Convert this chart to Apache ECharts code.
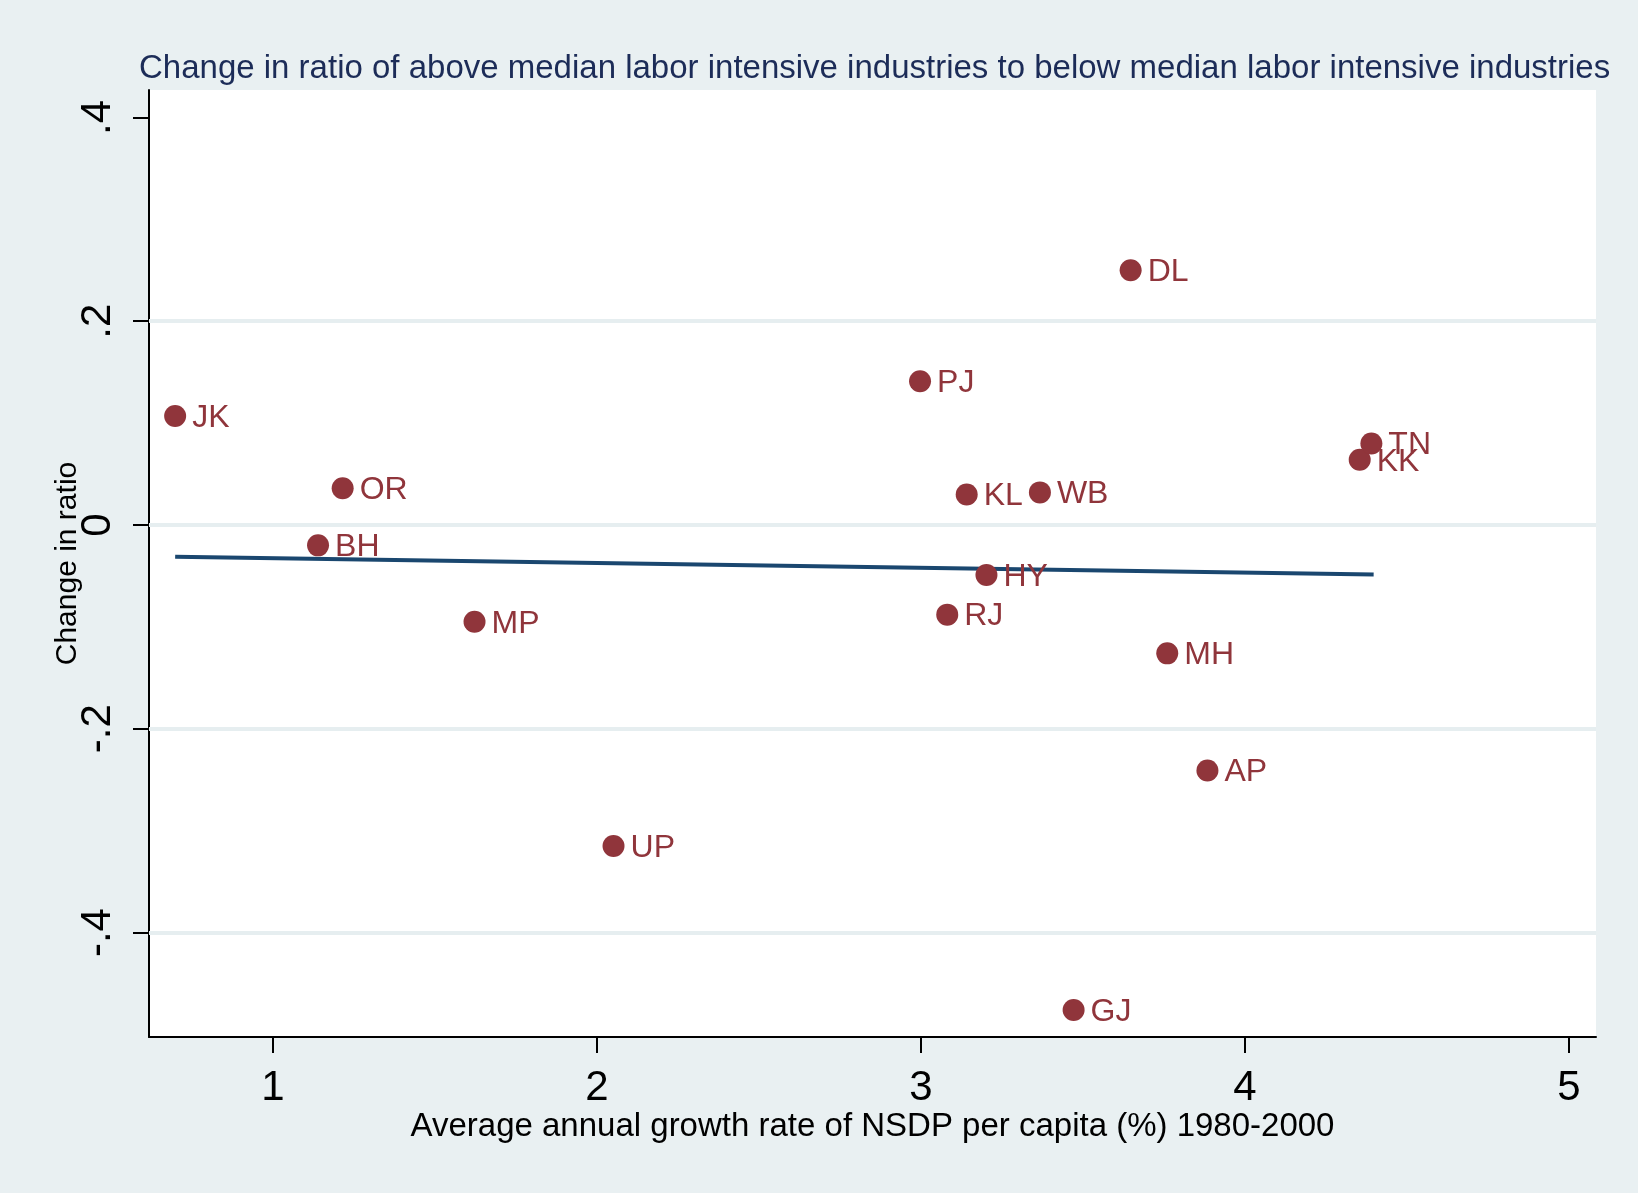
<!DOCTYPE html>
<html>
<head>
<meta charset="utf-8">
<script src="https://cdn.jsdelivr.net/npm/echarts@6/dist/echarts.min.js"></script>
<style>
html,body{margin:0;padding:0;background:#e9f0f2;}
#chart{width:1638px;height:1193px;}
</style>
</head>
<body>
<div id="chart"></div>
<script>
// State codes, growth rate (x) and change in ratio (y)
const states = ['JK','OR','BH','MP','UP','PJ','KL','WB','HY','RJ','DL','MH','AP','GJ','KK','TN'];
const growth = [0.698, 1.215, 1.139, 1.622, 2.051, 2.997, 3.141, 3.367, 3.202, 3.081, 3.647, 3.760, 3.884, 3.471, 4.354, 4.390];
const changeRatio = [0.107, 0.036, -0.020, -0.095, -0.315, 0.141, 0.030, 0.032, -0.049, -0.088, 0.250, -0.126, -0.241, -0.476, 0.064, 0.080];

// Fitted line endpoints
const fitX = [0.698, 4.397];
const fitY = [-0.0311, -0.0487];

// Axis ticks
const xTickValues = [1, 2, 3, 4, 5];
const xTickLabels = ['1', '2', '3', '4', '5'];
const yTickValues = [-0.4, -0.2, 0, 0.2, 0.4];
const yTickLabels = ['-.4', '-.2', '0', '.2', '.4'];
const yGridValues = [-0.4, -0.2, 0, 0.2];

const titleText = 'Change in ratio of above median labor intensive industries to below median labor intensive industries';
const xTitle = 'Average annual growth rate of NSDP per capita (%) 1980-2000';
const yTitle = 'Change in ratio';

const FONT = 'Liberation Sans, Arial, Helvetica, sans-serif';
const MAROON = '#90353b';

function labelFor(values, labels, v) {
  let best = 0, d = Infinity;
  values.forEach((t, i) => { const dd = Math.abs(t - v); if (dd < d) { d = dd; best = i; } });
  return labels[best];
}

const scatterData = states.map((s, i) => [growth[i], changeRatio[i], s]);
const fitData = fitX.map((x, i) => [x, fitY[i]]);

const chart = echarts.init(document.getElementById('chart'), null, {renderer: 'canvas'});
chart.setOption({
  backgroundColor: '#e9f0f2',
  animation: false,
  title: {
    text: titleText,
    left: 139,
    top: 52,
    padding: 0,
    textStyle: {fontFamily: FONT, fontSize: 33, fontWeight: 'normal', color: '#1c2c58'}
  },
  grid: {
    left: 149, top: 90, width: 1447, height: 947,
    show: true, backgroundColor: '#ffffff', borderWidth: 0,
    containLabel: false
  },
  xAxis: {
    type: 'value',
    min: 0.6173, max: 5.0833,
    name: xTitle,
    nameLocation: 'middle',
    nameGap: 73,
    nameMoveOverlap: false,
    nameTextStyle: {fontFamily: FONT, fontSize: 33, color: '#000'},
    axisLine: {show: true, onZero: false, lineStyle: {color: '#000', width: 2}},
    axisTick: {show: true, length: 16, lineStyle: {color: '#000', width: 2}, customValues: xTickValues},
    axisLabel: {
      show: true, margin: 30, fontFamily: FONT, fontSize: 42, color: '#000',
      customValues: xTickValues,
      formatter: v => labelFor(xTickValues, xTickLabels, v)
    },
    splitLine: {show: false}
  },
  yAxis: {
    type: 'value',
    min: -0.5025, max: 0.4269,
    name: yTitle,
    nameLocation: 'middle',
    nameGap: 66,
    nameMoveOverlap: false,
    nameTextStyle: {fontFamily: FONT, fontSize: 30, color: '#000'},
    axisLine: {show: true, onZero: false, lineStyle: {color: '#000', width: 2}},
    axisTick: {show: true, length: 16, lineStyle: {color: '#000', width: 2}, customValues: yTickValues},
    axisLabel: {
      show: true, margin: 30, rotate: 90, fontFamily: FONT, fontSize: 42, color: '#000',
      customValues: yTickValues,
      formatter: v => labelFor(yTickValues, yTickLabels, v)
    },
    splitLine: {show: false}
  },
  series: [
    {
      type: 'line',
      data: [],
      z: 1,
      silent: true,
      markLine: {
        silent: true,
        symbol: ['none', 'none'],
        label: {show: false},
        lineStyle: {color: '#e6eef0', width: 4, type: 'solid'},
        data: yGridValues.map(v => ({yAxis: v}))
      }
    },
    {
      type: 'line',
      data: fitData,
      z: 3,
      symbol: 'none',
      lineStyle: {color: '#1a476f', width: 4},
      silent: true
    },
    {
      type: 'scatter',
      data: scatterData,
      z: 4,
      symbol: 'circle',
      symbolSize: 22,
      itemStyle: {color: MAROON, opacity: 1},
      label: {
        show: true,
        position: 'right',
        distance: 6,
        offset: [0, 2],
        fontFamily: FONT,
        fontSize: 32,
        color: MAROON,
        formatter: p => p.value[2]
      }
    }
  ]
});
</script>
</body>
</html>
